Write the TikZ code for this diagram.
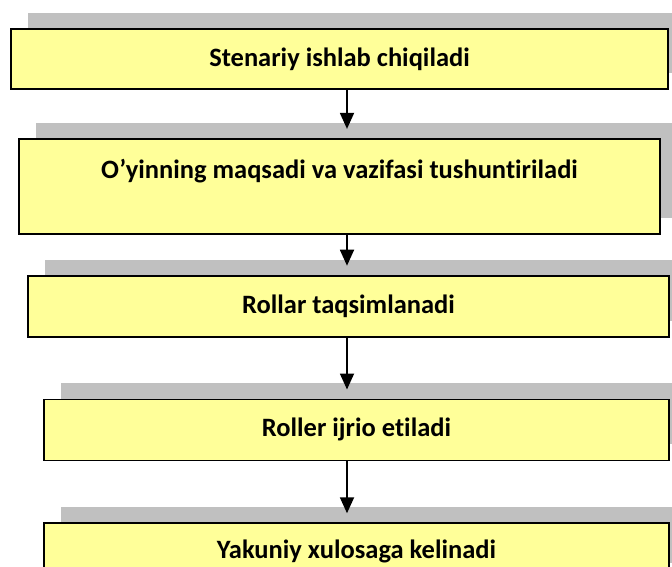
\documentclass[tikz,border=0pt]{standalone}
\usepackage{fontspec}
\setmainfont{Carlito}[Ligatures=NoCommon]
\usetikzlibrary{arrows.meta, positioning, shadows}

\definecolor{boxyellow}{HTML}{FFFF99}
\definecolor{shadowgray}{HTML}{C0C0C0}

\begin{document}
\begin{tikzpicture}[font=\fontsize{26.5}{30}\selectfont\bfseries,
	box/.style={draw, fill=boxyellow, line width=1.8pt, inner sep=0pt,
		drop shadow={shadow xshift=16.5pt, shadow yshift=16pt, fill=shadowgray, draw=none, opacity=1}},
	arrow/.style={-{Triangle[length=16pt, width=14pt]}, line width=1.8pt, shorten >=9pt}]
	\useasboundingbox (0pt,0pt) rectangle (672pt,566pt);
	\clip (0pt,0pt) rectangle (672pt,566pt);
	\coordinate (axis) at (347pt,0pt);
	
	\node[box, minimum width=657pt, minimum height=60pt] (scenario) at (339.5pt,507pt) {Stenariy ishlab chiqiladi};
	\node[box, minimum width=641pt, minimum height=95pt, text height=20pt, text depth=36pt] (goal) [below = 48pt of scenario] {O’yinning maqsadi va vazifasi tushuntiriladi};
	\node[box, minimum width=641pt, minimum height=61pt] (roles) [below = 40pt of goal, xshift=9pt] {Rollar taqsimlanadi};
	\node[box, minimum width=625pt, minimum height=61pt] (play) [below = 61pt of roles, xshift=8pt] {Roller ijrio etiladi};
	\node[box, minimum width=625pt, minimum height=56pt] (final) [below = 61pt of play] {Yakuniy xulosaga kelinadi};
	
	\draw[arrow] (scenario.south -| axis) -- (goal.north -| axis);
	\draw[arrow] (goal.south -| axis) -- (roles.north -| axis);
	\draw[arrow] (roles.south -| axis) -- (play.north -| axis);
	\draw[arrow] (play.south -| axis) -- (final.north -| axis);
\end{tikzpicture}
\end{document}
